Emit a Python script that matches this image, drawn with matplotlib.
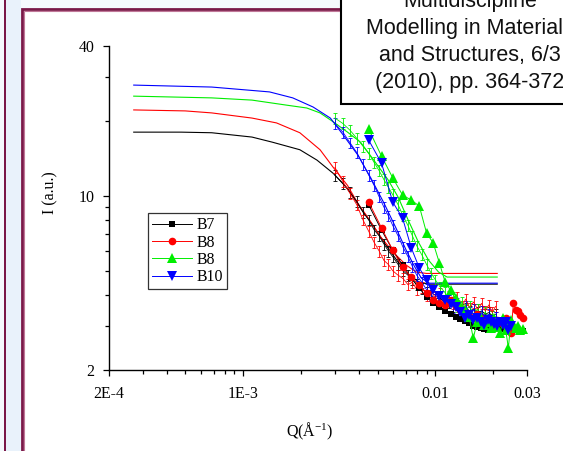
import matplotlib
matplotlib.use("Agg")
import matplotlib.pyplot as plt
from matplotlib.patches import Rectangle
from matplotlib.ticker import FixedLocator, FixedFormatter, NullFormatter

plt.rcParams["font.family"] = ["Liberation Serif", "DejaVu Serif"]
plt.rcParams["mathtext.fontset"] = "custom"
plt.rcParams["mathtext.rm"] = "Liberation Serif"
plt.rcParams["mathtext.default"] = "regular"

# ---------------- data ----------------
series_labels = ["B7", "B8", "B8", "B10"]
series_colors = ["#000000", "#ff0000", "#00ee00", "#0000ff"]
series_markers = ["s", "o", "^", "v"]

# model fits
fit_q_b7 = [2.69e-4, 4.75e-4, 6.85e-4, 1.11e-3, 1.42e-3, 1.97e-3, 2.42e-3, 2.94e-3, 3.49e-3,
            4.08e-3, 4.72e-3, 5.53e-3, 6.40e-3, 7.31e-3, 8.26e-3, 9.32e-3, 2.10e-2]
fit_i_b7 = [18.0, 18.0, 17.9, 17.2, 16.4, 15.3, 13.9, 12.3, 10.7,
            8.92, 7.63, 6.34, 5.42, 4.81, 4.50, 4.42, 4.42]
fit_q_b8r = [2.69e-4, 4.99e-4, 6.85e-4, 1.11e-3, 1.49e-3, 1.97e-3, 2.51e-3, 2.94e-3, 3.49e-3,
             3.94e-3, 4.44e-3, 5.20e-3, 6.09e-3, 7.05e-3, 7.96e-3, 8.99e-3, 2.10e-2]
fit_i_b8r = [22.1, 21.9, 21.5, 20.5, 19.6, 17.9, 15.3, 13.0, 11.0,
             9.35, 8.21, 6.83, 5.89, 5.27, 4.94, 4.88, 4.88]
fit_q_b8g = [2.69e-4, 6.85e-4, 1.11e-3, 1.68e-3, 2.14e-3, 2.51e-3, 2.94e-3, 3.49e-3, 4.08e-3,
             4.78e-3, 5.67e-3, 6.40e-3, 7.22e-3, 8.16e-3, 9.21e-3, 1.04e-2, 1.15e-2, 2.10e-2]
fit_i_b8g = [25.1, 24.7, 24.2, 23.1, 22.5, 21.5, 19.8, 18.0, 16.4,
             13.9, 11.6, 9.88, 7.99, 6.52, 5.52, 4.94, 4.72, 4.72]
fit_q_b10 = [2.69e-4, 6.85e-4, 1.37e-3, 1.81e-3, 2.31e-3, 2.84e-3, 3.32e-3, 3.94e-3, 4.61e-3,
             5.40e-3, 6.24e-3, 7.05e-3, 7.77e-3, 8.46e-3, 9.32e-3, 2.10e-2]
fit_i_b10 = [27.8, 27.3, 26.1, 24.7, 22.7, 20.5, 17.5, 14.6, 11.8,
             9.35, 7.42, 6.05, 5.22, 4.67, 4.46, 4.46]

# measured curves with error bars
meas_q = [0.0030, 0.0033, 0.0036, 0.0039, 0.0042, 0.0045, 0.0048, 0.0051, 0.0054, 0.0057,
          0.0060, 0.0064, 0.0068, 0.0072, 0.0076, 0.0080, 0.0085, 0.0090, 0.0095, 0.0100,
          0.0106, 0.0112, 0.0118, 0.0124, 0.0130, 0.0137, 0.0144, 0.0151, 0.0158, 0.0166,
          0.0174, 0.0182, 0.0190, 0.0198, 0.0206]
meas_b7 = [12.1, 11.2, 10.3, 9.5, 8.6, 8.0, 7.3, 6.9, 6.4, 6.0,
           5.7, 5.3, 5.0, 4.8, 4.6, 4.4, 4.25, 4.1, 4.0, 3.85,
           3.9, 3.7, 3.75, 3.6, 3.65, 3.5, 3.55, 3.45, 3.5, 3.4,
           3.45, 3.35, 3.4, 3.3, 3.35]
meas_b8r = [13.0, 11.4, 10.2, 9.2, 8.0, 7.2, 6.5, 6.0, 5.5, 5.3,
            5.0, 4.8, 4.65, 4.4, 4.5, 4.2, 4.3, 4.0, 4.15, 3.9,
            4.05, 3.8, 3.95, 3.7, 3.9, 3.6, 3.85, 3.55, 3.75, 3.5,
            3.7, 3.45, 3.65, 3.4, 3.6]
meas_b8g = [20.5, 19.5, 18.3, 17.0, 15.8, 14.8, 13.6, 12.6, 11.6, 10.8,
            10.1, 9.2, 8.3, 7.6, 6.9, 6.3, 5.8, 5.3, 4.9, 4.6,
            4.3, 4.1, 3.8, 3.9, 3.6, 3.75, 3.5, 3.6, 3.35, 3.5,
            3.25, 3.4, 3.2, 3.3, 3.1]
meas_b10 = [19.5, 18.0, 16.3, 14.9, 13.4, 12.1, 11.0, 9.9, 9.0, 8.3,
            7.6, 6.9, 6.2, 5.7, 5.2, 4.8, 4.5, 4.2, 4.0, 3.85,
            3.95, 3.7, 3.8, 3.55, 3.7, 3.45, 3.6, 3.4, 3.5, 3.3,
            3.45, 3.2, 3.35, 3.1, 3.25]
rel_err = 0.05

# symbol series
mark_q = [0.0045, 0.00525, 0.006, 0.00675, 0.0075, 0.00825, 0.009, 0.00975, 0.0105, 0.01125,
          0.012, 0.01275, 0.0135, 0.01425, 0.015, 0.01575, 0.0165, 0.01725, 0.018, 0.01875,
          0.0195, 0.02025, 0.021, 0.02175, 0.0225, 0.02325, 0.024, 0.02475, 0.0255, 0.02625,
          0.027, 0.02775, 0.0285]
mark_b7 = [9.18, 7.28, 6.05, 5.27, 4.67, 4.26, 3.92, 3.71, 3.57, 3.44,
           3.35, 3.26, 3.20, 3.14, 3.08, 3.00, 2.97, 2.94, 2.92, 2.89,
           2.89, 2.92, 2.92, 2.92, 2.94, 2.92, 2.89, 2.89, 2.89, 2.89,
           2.89, 2.86, 2.86]
mark_b8r = [9.43, 7.42, 6.05, 5.17, 4.72, 4.38, 4.07, 3.81, 3.71, 3.64,
            3.81, 3.61, 3.48, 3.38, 3.29, 3.23, 3.35, 3.17, 3.23, 3.11,
            3.17, 3.03, 3.17, 3.11, 3.05, 3.23, 2.97, 2.81, 3.71, 3.48,
            3.44, 3.32, 3.23]
mark_b8g = [18.5, 14.4, 11.8, 10.06, 9.61, 9.09, 7.09, 6.46, 5.37, 4.50,
            4.18, 3.88, 3.64, 3.48, 3.26, 2.68, 3.11, 3.23, 3.03, 3.11,
            2.94, 3.23, 2.97, 2.81, 3.23, 2.89, 2.45, 3.17, 3.03, 2.94,
            3.00, 2.89, 2.92]
mark_b10 = [16.7, 13.5, 9.43, 8.14, 6.17, 5.13, 4.59, 4.18, 3.96, 3.81,
            3.67, 3.57, 3.41, 3.23, 3.32, 3.17, 3.23, 3.11, 3.03, 3.17,
            3.11, 3.05, 3.00, 3.11, 3.03, 3.11, 2.89, 3.00]

x_major = [2e-4, 1e-3, 1e-2, 3e-2]
x_major_labels = ["2E-4", "1E-3", "0.01", "0.03"]
x_minor = [3e-4, 4e-4, 5e-4, 6e-4, 7e-4, 8e-4, 9e-4,
           2e-3, 3e-3, 4e-3, 5e-3, 6e-3, 7e-3, 8e-3, 9e-3, 2e-2]
y_major = [2, 10, 40]
y_major_labels = ["2", "10", "40"]
y_minor = [3, 4, 5, 6, 7, 8, 9, 20, 30]

citation = ["Multidiscipline", "Modelling in Materials", "and Structures, 6/3",
            "(2010), pp. 364-372"]

# ---------------- figure ----------------
W, H = 563, 451
fig = plt.figure(figsize=(W / 100, H / 100), dpi=100)
fig.patch.set_facecolor("#f5f9fd")


def add_px_rect(x0, y0, x1, y1, **kw):
    r = Rectangle((x0 / W, 1 - y1 / H), (x1 - x0) / W, (y1 - y0) / H,
                  transform=fig.transFigure, **kw)
    fig.add_artist(r)
    return r


# slide frame
add_px_rect(6, -5, 21, H + 5, facecolor="#e9f2fb", edgecolor="none", zorder=0)
add_px_rect(3.5, -5, 6, H + 5, facecolor="#7a1848", edgecolor="none", zorder=0)
add_px_rect(22, 9, W + 20, H + 20, facecolor="white", edgecolor="#7a1848",
            linewidth=2.0, zorder=0)
add_px_rect(23.5, 10.5, W + 20, H + 20, facecolor="none", edgecolor="#c07898",
            linewidth=0.8, zorder=0)

ax = fig.add_axes([109 / W, 1 - 370 / H, (527 - 109) / W, (370 - 45.7) / H])
ax.set_facecolor("none")
ax.set_xscale("log")
ax.set_yscale("log")
ax.set_xlim(2e-4, 3e-2)
ax.set_ylim(2, 40)

fits = [(fit_q_b7, fit_i_b7), (fit_q_b8r, fit_i_b8r), (fit_q_b8g, fit_i_b8g), (fit_q_b10, fit_i_b10)]
meas = [meas_b7, meas_b8r, meas_b8g, meas_b10]
marks = [mark_b7, mark_b8r, mark_b8g, mark_b10]
msizes = [5.0, 5.5, 6.5, 6.5]

for (fq, fi), col in zip(fits, series_colors):
    ax.plot(fq, fi, color=col, lw=0.8, zorder=2)

for vals, col in zip(meas, series_colors):
    ax.errorbar(meas_q, vals, yerr=[v * rel_err for v in vals], fmt="-", color=col,
                lw=0.6, elinewidth=0.6, capsize=1.6, capthick=0.6, zorder=3)

handles = []
for vals, col, mk, ms, lab in zip(marks, series_colors, series_markers, msizes, series_labels):
    ln, = ax.plot(mark_q[:len(vals)], vals, color=col, lw=0.7, marker=mk, ms=ms,
                  markeredgewidth=0, zorder=4, label=lab)
    handles.append(ln)

for s in ["top", "right"]:
    ax.spines[s].set_visible(False)
for s in ["left", "bottom"]:
    ax.spines[s].set_linewidth(1.0)

ax.xaxis.set_major_locator(FixedLocator(x_major))
ax.xaxis.set_major_formatter(FixedFormatter(x_major_labels))
ax.xaxis.set_minor_locator(FixedLocator(x_minor))
ax.xaxis.set_minor_formatter(NullFormatter())
ax.yaxis.set_major_locator(FixedLocator(y_major))
ax.yaxis.set_major_formatter(FixedFormatter(y_major_labels))
ax.yaxis.set_minor_locator(FixedLocator(y_minor))
ax.yaxis.set_minor_formatter(NullFormatter())
ax.tick_params(which="major", direction="out", length=4.5, width=0.9, labelsize=11.4)
ax.tick_params(which="minor", direction="out", length=3.0, width=0.9)
ax.tick_params(axis="x", which="major", pad=7)
ax.tick_params(axis="y", which="major", pad=6)

fig.text(310 / W, 1 - 431 / H, "Q(Å$^{-1}$)", ha="center", va="center", fontsize=11.5)
fig.text(50 / W, 1 - 193 / H, "I (a.u.)", ha="center", va="center", fontsize=11.5,
         rotation=90)

leg = ax.legend(handles=handles, loc="upper left", bbox_to_anchor=(148 / W, 1 - 213.3 / H),
                bbox_transform=fig.transFigure, fontsize=11.4, frameon=True, fancybox=False,
                borderaxespad=0, borderpad=0.25, handlelength=2.5, handletextpad=0.3,
                labelspacing=0.08)
leg.get_frame().set_edgecolor("black")
leg.get_frame().set_linewidth(0.9)

# citation box (runs off the top and right edges)
add_px_rect(341, -20, 600, 104, facecolor="white", edgecolor="black", linewidth=1.5, zorder=10)
for k, line in enumerate(citation):
    fig.text(470 / W, 1 - (7 + 27 * k) / H, line, ha="center", va="baseline",
             fontsize=15.5, family=["Liberation Sans", "DejaVu Sans"], color="#111111", zorder=11)

fig.savefig("out.png", dpi=100, facecolor=fig.get_facecolor())
